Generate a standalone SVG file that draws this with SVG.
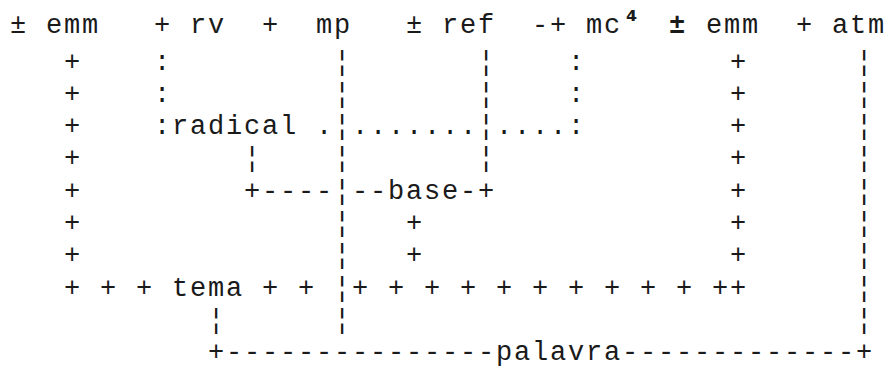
<svg xmlns="http://www.w3.org/2000/svg" width="888" height="368" viewBox="0 0 888 368">
<style>
text { font-family: "Liberation Mono", "DejaVu Sans Mono", monospace; font-size: 27px; letter-spacing: 1.8px; fill: #1a1a1a; white-space: pre; }
.b { font-weight: bold; letter-spacing: 0; }
.sup { font-family: "DejaVu Sans", sans-serif; font-weight: bold; font-size: 26px; letter-spacing: 0; }
</style>
<rect width="888" height="368" fill="#ffffff"/>
<g id="node-emm-left"><text x="9.9" y="33" xml:space="preserve">± emm</text></g>
<g id="node-rv"><text x="153.9" y="33" xml:space="preserve">+ rv</text></g>
<g id="node-mp"><text x="261.9" y="33" xml:space="preserve">+  mp</text></g>
<g id="node-ref"><text x="405.9" y="33" xml:space="preserve">± ref</text></g>
<g id="node-mc"><text x="531.9" y="33" xml:space="preserve">-+ mc<tspan class="sup" x="626" y="30">⁴</tspan></text></g>
<g id="node-emm-right"><text class="b" x="677" y="33" text-anchor="middle">±</text><text x="705.9" y="33">emm</text></g>
<g id="node-atm"><text x="795.9" y="33" xml:space="preserve">+ atm</text></g>
<g id="node-radical"><text x="171.9" y="134.1">radical</text></g>
<g id="node-base"><text x="387.9" y="198.7">base</text></g>
<g id="node-tema"><text x="171.9" y="295.6">tema</text></g>
<g id="node-palavra"><text x="495.9" y="360.2">palavra</text></g>
<g id="connectors">
<text x="63.9" y="69.5">+</text><text x="153.9" y="69.5">:</text><text x="333.9" y="69.5">¦</text><text x="477.9" y="69.5">¦</text><text x="567.9" y="69.5">:</text><text x="729.9" y="69.5">+</text><text x="855.9" y="69.5">¦</text>
<text x="63.9" y="101.8">+</text><text x="153.9" y="101.8">:</text><text x="333.9" y="101.8">¦</text><text x="477.9" y="101.8">¦</text><text x="567.9" y="101.8">:</text><text x="729.9" y="101.8">+</text><text x="855.9" y="101.8">¦</text>
<text x="63.9" y="134.1">+</text><text x="153.9" y="134.1">:</text><text x="315.9" y="134.1">.¦.......¦....:</text><text x="729.9" y="134.1">+</text><text x="855.9" y="134.1">¦</text>
<text x="63.9" y="166.4">+</text><text x="243.9" y="166.4">¦</text><text x="333.9" y="166.4">¦</text><text x="477.9" y="166.4">¦</text><text x="729.9" y="166.4">+</text><text x="855.9" y="166.4">¦</text>
<text x="63.9" y="198.7">+</text><text x="243.9" y="198.7">+----¦--</text><text x="459.9" y="198.7">-+</text><text x="729.9" y="198.7">+</text><text x="855.9" y="198.7">¦</text>
<text x="63.9" y="231">+</text><text x="333.9" y="231">¦</text><text x="405.9" y="231">+</text><text x="729.9" y="231">+</text><text x="855.9" y="231">¦</text>
<text x="63.9" y="263.3">+</text><text x="333.9" y="263.3">¦</text><text x="405.9" y="263.3">+</text><text x="729.9" y="263.3">+</text><text x="855.9" y="263.3">¦</text>
<text x="63.9" y="295.6" xml:space="preserve">+ + +</text><text x="261.9" y="295.6" xml:space="preserve">+ + ¦+ + + + + + + + + + ++</text><text x="855.9" y="295.6">¦</text>
<text x="207.9" y="327.9">¦</text><text x="333.9" y="327.9">¦</text><text x="855.9" y="327.9">¦</text>
<text x="207.9" y="360.2">+---------------</text><text x="621.9" y="360.2">-------------+</text>
</g>
</svg>
